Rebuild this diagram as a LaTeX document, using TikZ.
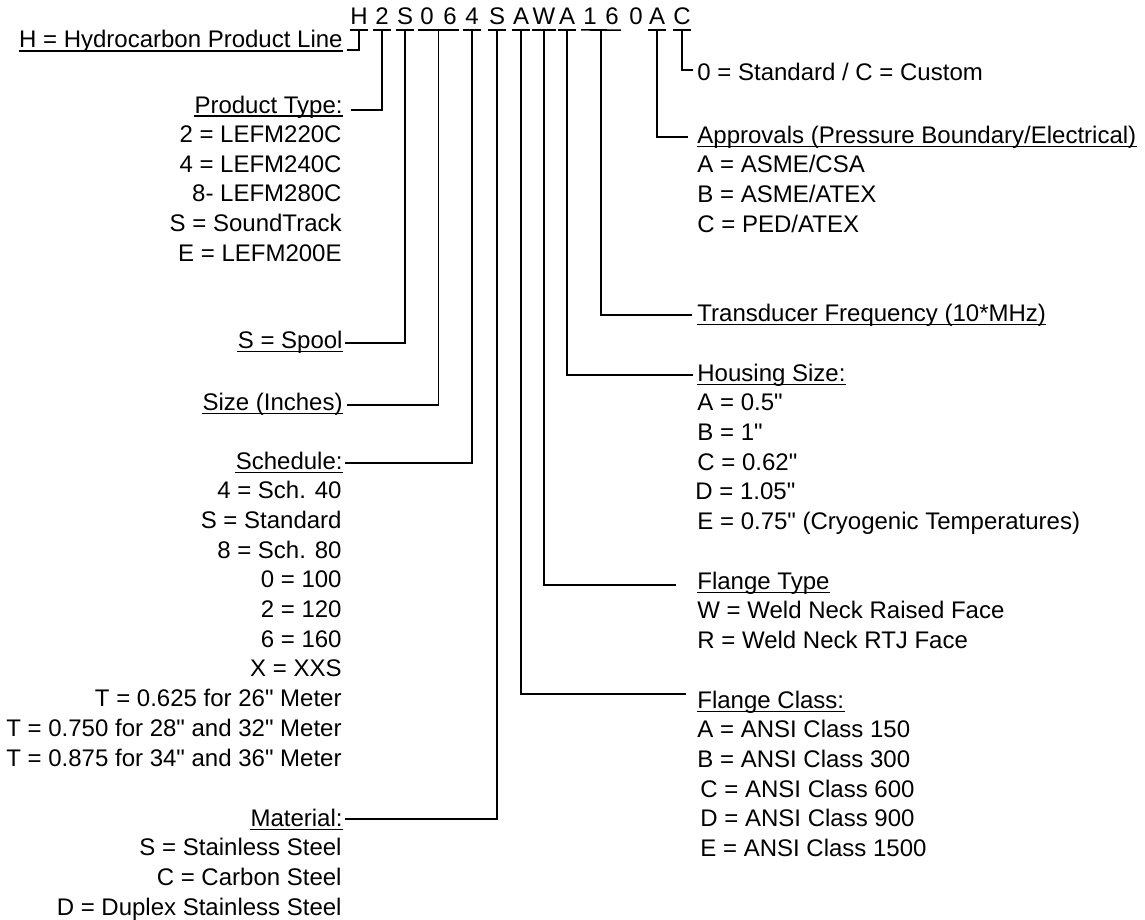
\documentclass[tikz,border=0pt]{standalone}
\usepackage{fontspec}
\setmainfont{Liberation Sans}
\usetikzlibrary{calc}
\newcommand\qd{\textquotedbl}
\begin{document}
\begin{tikzpicture}[x=0.5pt,y=-0.5pt,
  every node/.style={inner sep=0pt, font=\fontsize{12pt}{14.85pt}\selectfont},
  lbl/.style={anchor=base east},
  rbl/.style={anchor=base west},
  code/.style={anchor=base, minimum width=8.5pt, inner ysep=2.5pt},
  conn/.style={line width=0.8pt, line join=miter},
  uline/.style={line width=0.7pt},
]
\useasboundingbox (0,0) rectangle (1145,920);

% ---- code characters ----
\foreach \ch/\xx [count=\i] in {H/359,2/382,S/405,0/427,6/450,4/472,S/497,A/521,W/544,A/567,1/590,6/612,0/636,A/657,C/682}
  \node[code] (c\i) at (\xx,24.5) {\ch};

% bars under the code characters
\foreach \i in {1,2,3,6,7,8,9,10,14,15}
  \draw[conn] (c\i.south west) -- (c\i.south east);
\draw[conn] (c4.south west) -- (c5.south east);
\draw[conn] (c11.south west) -- (c12.south east);
\coordinate (m45) at ($(c4.south)!0.5!(c5.south)$);
\coordinate (m1112) at ($(c11.south)!0.5!(c12.south)$);

% ---- left labels ----
\node[lbl] (hl) at (343,48) {H = Hydrocarbon Product Line};
\node[lbl] (pt) at (343,113) {Product Type:};
\foreach \t [count=\i] in {2 = LEFM220C, 4 = LEFM240C, 8- LEFM280C, S = SoundTrack, E = LEFM200E}
  \node[lbl] (pt\i) at (342,{113+29.6*\i}) {\t};
\node[lbl] (sp) at (343,348) {S = Spool};
\node[lbl] (sz) at (343,410) {Size (Inches)};
\node[lbl] (sc) at (343,469) {Schedule:};
\foreach \t [count=\i] in {4 = Sch. 40, S = Standard, 8 = Sch. 80, 0 = 100, 2 = 120, 6 = 160, X = XXS,
   T = 0.625 for 26\qd{} Meter, T = 0.750 for 28\qd{} and 32\qd{} Meter, T = 0.875 for 34\qd{} and 36\qd{} Meter}
  \node[lbl] (sc\i) at (342,{469+29.7*\i}) {\t};
\node[lbl] (mt) at (343,826) {Material:};
\foreach \t [count=\i] in {S = Stainless Steel, C = Carbon Steel, D = Duplex Stainless Steel}
  \node[lbl] (mt\i) at (342,{826+29.7*\i}) {\t};

% ---- right labels ----
\node[rbl] (st) at (697,81) {0 = Standard / C = Custom};
\node[rbl] (ap) at (697,143) {Approvals (Pressure Boundary/Electrical)};
\foreach \t [count=\i] in {A = ASME/CSA, B = ASME/ATEX, C = PED/ATEX}
  \node[rbl] (ap\i) at (697,{143+29.7*\i}) {\t};
\node[rbl] (tf) at (697,321) {Transducer Frequency (10*MHz)};
\node[rbl] (hs) at (697,381) {Housing Size:};
\foreach \t/\xx [count=\i] in {A = 0.5\qd/697, B = 1\qd/697, C = 0.62\qd/697, D = 1.05\qd/695, E = 0.75\qd{} (Cryogenic Temperatures)/697}
  \node[rbl] (hs\i) at (\xx,{381+29.7*\i}) {\t};
\node[rbl] (ft) at (697,589) {Flange Type};
\foreach \t [count=\i] in {W = Weld Neck Raised Face, R = Weld Neck RTJ Face}
  \node[rbl] (ft\i) at (697,{589+29.7*\i}) {\t};
\node[rbl] (fc) at (697,708) {Flange Class:};
\foreach \t/\xx [count=\i] in {A = ANSI Class 150/697, B = ANSI Class 300/697, C = ANSI Class 600/700, D = ANSI Class 900/700, E = ANSI Class 1500/700}
  \node[rbl] (fc\i) at (\xx,{708+29.7*\i}) {\t};

% underlines of headers
\foreach \n in {hl,pt,sp,sz,sc,mt,ap,tf,hs,ft,fc}
  \draw[uline] ([yshift=-1.6pt]\n.base west) -- ([yshift=-1.6pt]\n.base east);

% ---- connector ends ----
\coordinate (eH) at (347,50);
\coordinate (e2) at (351,110);
\coordinate (e3) at (345,343);
\coordinate (e4) at (347,405);
\coordinate (e6) at (345,463);
\coordinate (e7) at (345,819);
\coordinate (e8) at (686,694);
\coordinate (e9) at (676,585);
\coordinate (e10) at (693,375);
\coordinate (e11) at (692,315);
\coordinate (e14) at (688,137);
\coordinate (e15) at (693,70);

\draw[conn] (c1.south) |- (eH);
\draw[conn] (c2.south) |- (e2);
\draw[conn] (c3.south) |- (e3);
\draw[conn] (m45) |- (e4);
\draw[conn] (c6.south) |- (e6);
\draw[conn] (c7.south) |- (e7);
\draw[conn] (c8.south) |- (e8);
\draw[conn] (c9.south) |- (e9);
\draw[conn] (c10.south) |- (e10);
\draw[conn] (m1112) |- (e11);
\draw[conn] (c14.south) |- (e14);
\draw[conn] (c15.south) |- (e15);
\end{tikzpicture}
\end{document}
